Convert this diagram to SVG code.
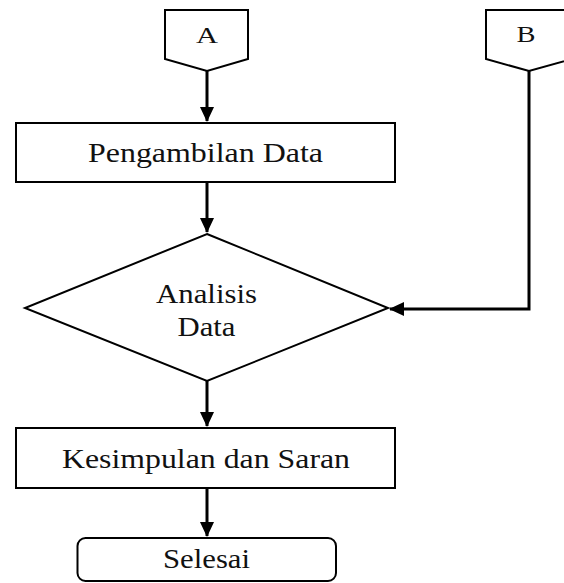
<svg xmlns="http://www.w3.org/2000/svg" width="564" height="583" viewBox="0 0 564 583">
  <style>
    .shape { fill: #fff; stroke: #000; stroke-width: 2; stroke-linejoin: miter; }
    .label { font-family: "Liberation Serif", "Times New Roman", serif; font-size: 27px; fill: #111; text-anchor: middle; }
    .small { font-size: 24px; }
    .link { fill: none; stroke: #000; stroke-width: 3; }
  </style>
  <defs>
    <marker id="arrow" markerUnits="userSpaceOnUse" markerWidth="16" markerHeight="16" viewBox="0 0 16 16" refX="14" refY="8" orient="auto">
      <path d="M0,1 L15,8 L0,15 Z" fill="#000"/>
    </marker>
  </defs>

  <g id="connectors">
    <path class="link" d="M207,71 V121" marker-end="url(#arrow)"/>
    <path class="link" d="M207,182 V232" marker-end="url(#arrow)"/>
    <path class="link" d="M529,71 V309 H390" marker-end="url(#arrow)"/>
    <path class="link" d="M207,381 V426" marker-end="url(#arrow)"/>
    <path class="link" d="M207,488 V536" marker-end="url(#arrow)"/>
  </g>

  <g id="connector-a">
    <path class="shape" d="M165,10 H248 V59 L207,71 L165,59 Z"/>
    <text class="label small" x="207" y="43" textLength="22" lengthAdjust="spacingAndGlyphs">A</text>
  </g>

  <g id="connector-b">
    <path class="shape" d="M486,10 H572 V59 L529,71 L486,59 Z"/>
    <text class="label small" x="526" y="42" textLength="19" lengthAdjust="spacingAndGlyphs">B</text>
  </g>

  <g id="pengambilan-data">
    <rect class="shape" x="16" y="123" width="379" height="59"/>
    <text class="label" x="205.5" y="162" textLength="235" lengthAdjust="spacingAndGlyphs">Pengambilan Data</text>
  </g>

  <g id="analisis-data">
    <path class="shape" d="M207,234 L388,308 L207,381 L25,308 Z"/>
    <text class="label" x="206.5" y="303" textLength="101" lengthAdjust="spacingAndGlyphs">Analisis</text>
    <text class="label" x="206.5" y="336" textLength="58" lengthAdjust="spacingAndGlyphs">Data</text>
  </g>

  <g id="kesimpulan-saran">
    <rect class="shape" x="16" y="428" width="379" height="60"/>
    <text class="label" x="206" y="468" textLength="288" lengthAdjust="spacingAndGlyphs">Kesimpulan dan Saran</text>
  </g>

  <g id="selesai">
    <rect class="shape" x="77.5" y="538" width="258.5" height="43" rx="8" ry="8"/>
    <text class="label" x="206.5" y="568" textLength="87" lengthAdjust="spacingAndGlyphs">Selesai</text>
  </g>
</svg>
